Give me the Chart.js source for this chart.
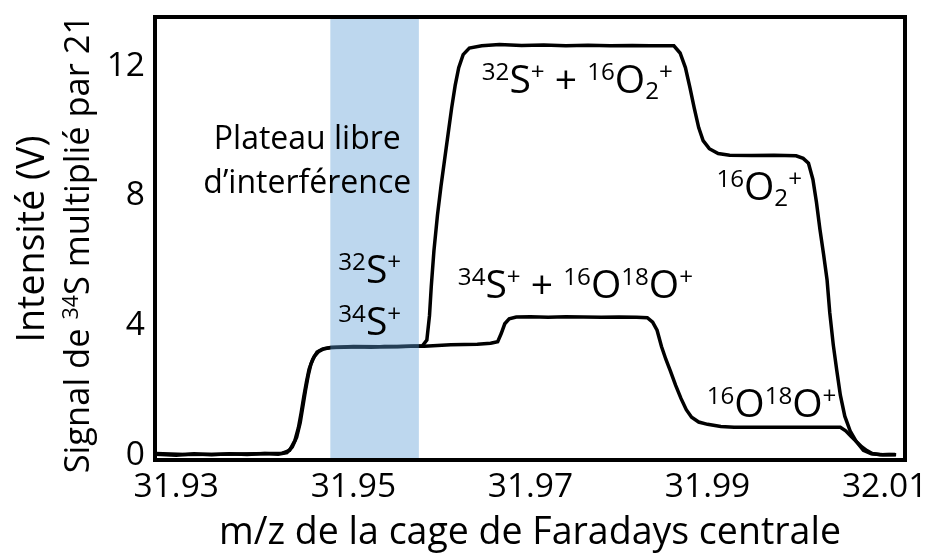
<!DOCTYPE html>
<html lang="fr">
<head>
<meta charset="utf-8">
<title>Plateau libre d'interférence</title>
<script src="https://cdn.jsdelivr.net/npm/chart.js@4.4.1/dist/chart.umd.min.js"></script>
<style>
  html, body { margin: 0; padding: 0; background: #fff; }
  canvas { display: block; }
</style>
</head>
<body>
<canvas id="chart" width="931" height="556"></canvas>
<script>
const FONT = '"Open Sans", "Noto Sans", sans-serif';

const X_TICKS = [31.93, 31.95, 31.97, 31.99, 32.01];
const Y_TICKS = [0, 4, 8, 12];

// 34S+ + 16O18O+ trace (m/z, volts)
const lowMz = [
  31.9277, 31.9300, 31.9320, 31.9340, 31.9360, 31.9380, 31.9400, 31.9415, 31.9425, 31.9431,
  31.9436, 31.9440, 31.9443, 31.9446, 31.9449, 31.9452, 31.9456, 31.9461, 31.9467, 31.9475,
  31.9490, 31.9505, 31.9520, 31.9535, 31.9550, 31.9565, 31.9580, 31.9595, 31.9610, 31.9625,
  31.9640, 31.9655, 31.9663, 31.9667, 31.9671, 31.9676, 31.9684, 31.9700, 31.9720, 31.9740,
  31.9760, 31.9780, 31.9800, 31.9820, 31.9832, 31.9838, 31.9843, 31.9848, 31.9853, 31.9858,
  31.9864, 31.9870, 31.9876, 31.9882, 31.9890, 31.9900, 31.9915, 31.9930, 31.9960, 31.9990,
  32.0020, 32.0050, 32.0056, 32.0062, 32.0068, 32.0074, 32.0080, 32.0086, 32.0095, 32.0105,
  32.0113,
];
const lowV = [
  0.03, 0.00, 0.04, 0.01, 0.04, 0.02, 0.05, 0.03, 0.08, 0.25,
  0.55, 1.00, 1.50, 2.00, 2.45, 2.80, 3.05, 3.20, 3.28, 3.32,
  3.33, 3.34, 3.33, 3.35, 3.34, 3.36, 3.36, 3.38, 3.40, 3.41,
  3.42, 3.45, 3.50, 3.75, 4.05, 4.20, 4.26, 4.27, 4.25, 4.27,
  4.26, 4.25, 4.26, 4.25, 4.24, 4.10, 3.85, 3.35, 2.95, 2.60,
  2.15, 1.75, 1.40, 1.17, 1.02, 0.95, 0.88, 0.86, 0.86, 0.86,
  0.86, 0.86, 0.75, 0.58, 0.42, 0.26, 0.14, 0.05, 0.01, 0.02,
  0.01,
];

// 32S+ + 16O2+ trace (m/z, volts)
const highMz = [
  31.9277, 31.9310, 31.9350, 31.9390, 31.9420, 31.9428, 31.9434, 31.9438, 31.9441, 31.9444,
  31.9447, 31.9450, 31.9454, 31.9459, 31.9465, 31.9474, 31.9500, 31.9530, 31.9560, 31.9578,
  31.9583, 31.9586, 31.9588, 31.9591, 31.9595, 31.9599, 31.9603, 31.9607, 31.9611, 31.9615,
  31.9619, 31.9624, 31.9631, 31.9645, 31.9665, 31.9690, 31.9715, 31.9740, 31.9765, 31.9790,
  31.9815, 31.9835, 31.9862, 31.9869, 31.9875, 31.9880, 31.9885, 31.9890, 31.9895, 31.9902,
  31.9912, 31.9925, 31.9950, 31.9975, 32.0000, 32.0008, 32.0014, 32.0019, 32.0023, 32.0027,
  32.0031, 32.0035, 32.0038, 32.0042, 32.0046, 32.0050, 32.0055, 32.0061, 32.0068, 32.0076,
  32.0085, 32.0098, 32.0112,
];
const highV = [
  0.05, 0.02, 0.03, 0.04, 0.06, 0.15, 0.45, 0.85, 1.30, 1.80,
  2.25, 2.65, 2.95, 3.18, 3.27, 3.32, 3.35, 3.34, 3.36, 3.37,
  3.55, 4.30, 5.20, 6.30, 7.40, 8.30, 9.10, 9.90, 10.70, 11.40,
  11.95, 12.35, 12.55, 12.62, 12.66, 12.63, 12.65, 12.62, 12.64, 12.62,
  12.63, 12.62, 12.62, 12.40, 11.95, 11.35, 10.70, 10.10, 9.70, 9.45,
  9.30, 9.25, 9.24, 9.25, 9.23, 9.15, 9.00, 8.50, 7.80, 6.95,
  6.20, 5.40, 4.40, 3.40, 2.60, 1.85, 1.20, 0.75, 0.42, 0.15,
  0.04, 0.01, 0.02,
];

// interference-free window on the low-mass side
const plateauRange = [31.9474, 31.9574];

// peak labels: [text, '' | 'sup' | 'sub'], anchored at (m/z, volts) on the left/baseline
const peakLabels = [
  { parts: [['32', 'sup'], ['S', ''], ['+', 'sup']], x: 31.9483, y: 5.31 },
  { parts: [['34', 'sup'], ['S', ''], ['+', 'sup']], x: 31.9483, y: 3.70 },
  { parts: [['32', 'sup'], ['S', ''], ['+', 'sup'], [' + ', ''], ['16', 'sup'], ['O', ''], ['2', 'sub'], ['+', 'sup']], x: 31.9645, y: 11.17 },
  { parts: [['16', 'sup'], ['O', ''], ['2', 'sub'], ['+', 'sup']], x: 31.9910, y: 7.87 },
  { parts: [['34', 'sup'], ['S', ''], ['+', 'sup'], [' + ', ''], ['16', 'sup'], ['O', ''], ['18', 'sup'], ['O', ''], ['+', 'sup']], x: 31.9618, y: 4.85 },
  { parts: [['16', 'sup'], ['O', ''], ['18', 'sup'], ['O', ''], ['+', 'sup']], x: 31.9899, y: 1.17 },
];
const plateauTitle = ['Plateau libre', 'd\u2019interférence'];

const yTitle1 = [['Intensité (V)', '']];
const yTitle2 = [['Signal de ', ''], ['34', 'sup'], ['S multiplié par 21', '']];

function richWidth(ctx, parts, size) {
  let w = 0;
  parts.forEach(([t, kind]) => {
    ctx.font = `${kind ? size * 0.62 : size}px ${FONT}`;
    w += ctx.measureText(t).width;
  });
  return w;
}

function drawRich(ctx, parts, x, y, size) {
  let cx = x;
  ctx.textBaseline = 'alphabetic';
  ctx.textAlign = 'left';
  parts.forEach(([t, kind]) => {
    const s = kind ? size * 0.62 : size;
    const dy = kind === 'sup' ? -size * 0.34 : kind === 'sub' ? size * 0.16 : 0;
    ctx.font = `${s}px ${FONT}`;
    ctx.fillText(t, cx, y + dy);
    cx += ctx.measureText(t).width;
  });
}

const overlay = {
  id: 'overlay',
  afterDatasetsDraw(chart) {
    const { ctx, chartArea: a, scales: { x, y } } = chart;
    ctx.save();
    // shaded plateau window, laid over the traces
    const x0 = x.getPixelForValue(plateauRange[0]);
    const x1 = x.getPixelForValue(plateauRange[1]);
    ctx.fillStyle = 'rgba(91,155,213,0.4)';
    ctx.fillRect(x0, a.top, x1 - x0, a.bottom - a.top);

    ctx.fillStyle = '#000';
    ctx.font = `32px ${FONT}`;
    ctx.textAlign = 'center';
    ctx.textBaseline = 'alphabetic';
    const px = x.getPixelForValue(31.9448);
    ctx.fillText(plateauTitle[0], px, y.getPixelForValue(9.44));
    ctx.fillText(plateauTitle[1], px, y.getPixelForValue(8.09));

    peakLabels.forEach((l) => {
      drawRich(ctx, l.parts, x.getPixelForValue(l.x), y.getPixelForValue(l.y), 39);
    });
    ctx.restore();
  },
  afterDraw(chart) {
    const { ctx, chartArea: a } = chart;
    ctx.save();
    ctx.strokeStyle = '#000';
    ctx.lineWidth = 4;
    ctx.strokeRect(a.left, a.top, a.right - a.left, a.bottom - a.top);

    // two-line y title, rotated
    ctx.fillStyle = '#000';
    [[yTitle1, 37.5, 30, 239], [yTitle2, 34.5, 77, 244]].forEach(([parts, size, cx, cy]) => {
      ctx.save();
      ctx.translate(cx, cy);
      ctx.rotate(-Math.PI / 2);
      const w = richWidth(ctx, parts, size);
      drawRich(ctx, parts, -w / 2, size * 0.36, size);
      ctx.restore();
    });
    ctx.restore();
  },
};

const line = (xs, ys) => ({
  data: xs.map((v, i) => ({ x: v, y: ys[i] })),
  showLine: true,
  borderColor: '#000',
  borderWidth: 3.5,
  pointRadius: 0,
  tension: 0,
});

new Chart(document.getElementById('chart'), {
  type: 'scatter',
  data: { datasets: [line(lowMz, lowV), line(highMz, highV)] },
  options: {
    responsive: false,
    animation: false,
    devicePixelRatio: 1,
    layout: { padding: { top: 17, right: 26, left: 0, bottom: 0 } },
    plugins: { legend: { display: false }, tooltip: { enabled: false } },
    scales: {
      x: {
        type: 'linear',
        min: 31.9276,
        max: 32.0123,
        afterBuildTicks: (s) => { s.ticks = X_TICKS.map((value) => ({ value })); },
        afterFit: (s) => {
          s.height = 96;
          s.paddingLeft = 0;
          s.paddingRight = 0;
        },
        grid: { display: false, drawTicks: false },
        border: { display: false },
        ticks: {
          color: '#000',
          font: { family: FONT, size: 33.5 },
          padding: 7,
          maxRotation: 0,
          autoSkip: false,
          callback: (v) => v.toFixed(2),
        },
        title: {
          display: true,
          text: 'm/z de la cage de Faradays centrale',
          color: '#000',
          font: { family: FONT, size: 37.5 },
          padding: { top: 0, bottom: 0 },
        },
      },
      y: {
        min: -0.15,
        max: 13.51,
        afterBuildTicks: (s) => { s.ticks = Y_TICKS.map((value) => ({ value })); },
        afterFit: (s) => {
          s.width = 155;
          s.paddingTop = 0;
          s.paddingBottom = 0;
        },
        grid: { display: false, drawTicks: false },
        border: { display: false },
        ticks: {
          color: '#000',
          font: { family: FONT, size: 33.5 },
          padding: 10,
        },
      },
    },
  },
  plugins: [overlay],
});
</script>
</body>
</html>
